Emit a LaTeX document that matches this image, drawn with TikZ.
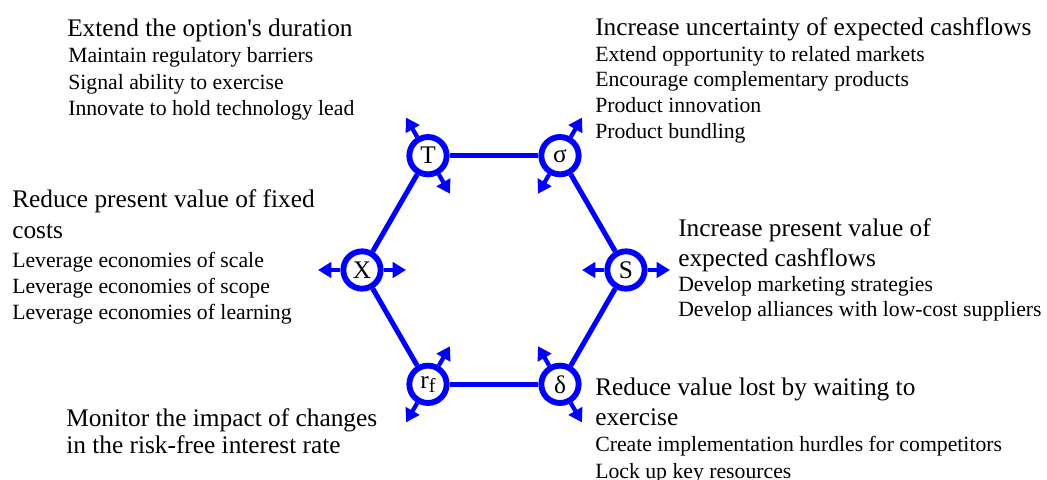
\documentclass[tikz,border=0pt]{standalone}
\usepackage{fontspec}
\setmainfont{Liberation Serif}
\usetikzlibrary{arrows.meta}

\tikzset{
  val/.style={circle, draw=blue, fill=white, line width=4.4pt, minimum size=28pt,
    inner sep=0pt, font=\fontsize{19}{20}\selectfont},
  link/.style={draw=blue, line width=3.8pt},
  push/.style={draw=blue, line width=3.2pt, -{Triangle[length=10pt,width=11.5pt]}, blue},
  head/.style={anchor=base west, inner sep=0pt, font=\fontsize{19}{23}\selectfont},
  item/.style={anchor=base west, inner sep=0pt, font=\fontsize{16.3}{20}\selectfont}
}

\begin{document}
\begin{tikzpicture}[x=0.75pt, y=0.75pt]
  \useasboundingbox (0,0) rectangle (1047,479);

  % the six value drivers on a hexagon
  \begin{scope}[shift={(494,209)}]
    \draw
      (0:132) node[val] (S){S}
      (60:132) node[val] (sigma){σ}
      (120:132) node[val] (T){T}
      (180:132) node[val] (X){X}
      (240:132) node[val] (rf){r\raisebox{-0.35ex}{\fontsize{15}{15}\selectfont f}}
      (300:132) node[val] (delta){δ};
    \begin{scope}[link]
      \draw (S) to (sigma);
      \draw (sigma) to (T);
      \draw (T) to (X);
      \draw (X) to (rf);
      \draw (rf) to (delta);
      \draw (delta) to (S);
    \end{scope}
    % radial arrows, outward and inward
    \foreach \n/\a in {S/0, sigma/60, T/120, X/180, rf/240, delta/300} {
      \path (\n) ++(\a:44) coordinate (\n-out);
      \path (\n) ++(\a+180:44) coordinate (\n-in);
      \draw[push] (\n) -- (\n-out);
      \draw[push] (\n) -- (\n-in);
    }
  \end{scope}

  % T
  \node[head] (durHead) at (67,442) {Extend the option\textquotesingle s duration};
  \node[item] (dur1) at (68,416) {Maintain regulatory barriers};
  \node[item] (dur2) at (68,389) {Signal ability to exercise};
  \node[item] (dur3) at (68,363) {Innovate to hold technology lead};

  % sigma
  \node[head] (volHead) at (595,443) {Increase uncertainty of expected cashflows};
  \node[item] (vol1) at (595,417) {Extend opportunity to related markets};
  \node[item] (vol2) at (595,392) {Encourage complementary products};
  \node[item] (vol3) at (595,366) {Product innovation};
  \node[item] (vol4) at (595,340) {Product bundling};

  % X
  \node[head] (costHead) at (12,271) {Reduce present value of fixed};
  \node[head] (costHeadb) at (12,240) {costs};
  \node[item] (cost1) at (12,211) {Leverage economies of scale};
  \node[item] (cost2) at (12,185) {Leverage economies of scope};
  \node[item] (cost3) at (12,159) {Leverage economies of learning};

  % S
  \node[head] (pvHead) at (678,242) {Increase present value of};
  \node[head] (pvHeadb) at (678,212) {expected cashflows};
  \node[item] (pv1) at (678,187) {Develop marketing strategies};
  \node[item] (pv2) at (678,162) {Develop alliances with low-cost suppliers};

  % r_f
  \node[head] (rateHead) at (66,53) {Monitor the impact of changes};
  \node[head] (rateHeadb) at (66,26) {in the risk-free interest rate};

  % delta
  \node[head] (divHead) at (595,84) {Reduce value lost by waiting to};
  \node[head] (divHeadb) at (595,54) {exercise};
  \node[item] (div1) at (595,27) {Create implementation hurdles for competitors};
  \node[item] (div2) at (595,1) {Lock up key resources};
\end{tikzpicture}
\end{document}
